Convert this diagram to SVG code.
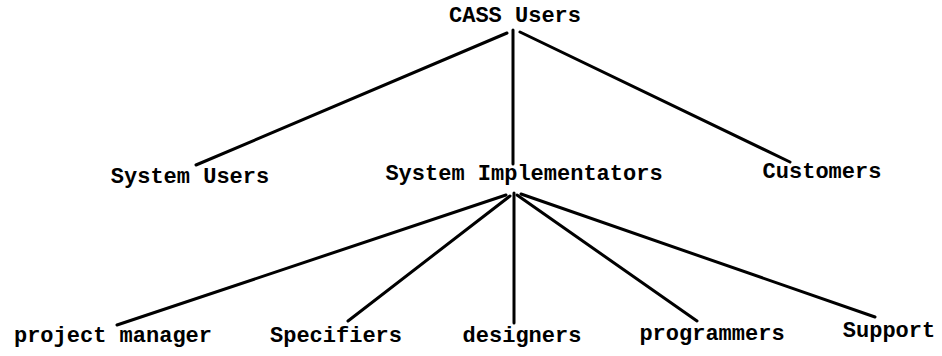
<svg xmlns="http://www.w3.org/2000/svg" width="942" height="356" viewBox="0 0 942 356">
<style>
.t{font-family:"Liberation Mono","DejaVu Sans Mono",monospace;font-weight:bold;font-size:22px;fill:#000;text-anchor:middle}
.c line{stroke:#000;stroke-width:3;stroke-linecap:round}
</style>
<rect width="942" height="356" fill="#fff"/>
<g class="c" id="connectors">
<line x1="507" y1="33" x2="196" y2="165"/>
<line x1="513" y1="30" x2="513" y2="164"/>
<line x1="520" y1="32" x2="790" y2="162"/>
<line x1="506" y1="195" x2="117" y2="325"/>
<line x1="510" y1="196" x2="348" y2="321"/>
<line x1="514" y1="193" x2="514" y2="323"/>
<line x1="517" y1="195" x2="697" y2="321"/>
<line x1="521" y1="194" x2="875" y2="317"/>
</g>
<g id="n-root"><text class="t" x="515" y="22">CASS Users</text></g>
<g id="n-sysusers"><text class="t" x="190" y="183">System Users</text></g>
<g id="n-sysimpl"><text class="t" x="524" y="180">System Implementators</text></g>
<g id="n-customers"><text class="t" x="822" y="178">Customers</text></g>
<g id="n-pm"><text class="t" x="113" y="342">project manager</text></g>
<g id="n-spec"><text class="t" x="336" y="342">Specifiers</text></g>
<g id="n-des"><text class="t" x="522" y="342">designers</text></g>
<g id="n-prog"><text class="t" x="712" y="340">programmers</text></g>
<g id="n-sup"><text class="t" x="889" y="337">Support</text></g>
</svg>
